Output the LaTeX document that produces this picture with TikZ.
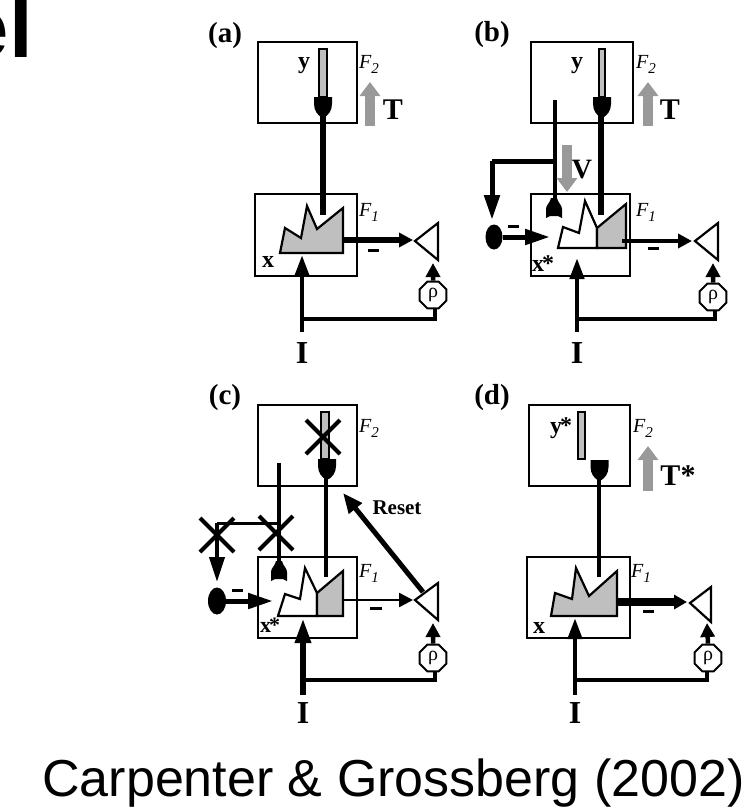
\documentclass[tikz,border=0pt]{standalone}
\usepackage{fontspec}
\setmainfont{Liberation Serif}
\newfontfamily\captionfont{Liberation Sans}
\usetikzlibrary{arrows.meta,shapes.geometric}

\newcommand\layersub[2]{#1\raisebox{-5pt}{\fontsize{15}{15}\selectfont #2}}

\tikzset{
  layerbox/.style={draw,line width=2pt,fill=none,inner sep=0pt},
  barbox/.style={draw,line width=1.6pt,fill=gray!50,inner sep=0pt},
  tag/.style={font=\bfseries\fontsize{29}{29}\selectfont,inner sep=0pt},
  lab/.style={font=\bfseries\fontsize{24}{24}\selectfont,inner sep=0pt},
  caplab/.style={font=\bfseries\fontsize{30}{30}\selectfont,inner sep=0pt},
  biglab/.style={font=\bfseries\fontsize{32}{32}\selectfont,inner sep=0pt},
  layername/.style={font=\itshape\fontsize{20}{20}\selectfont,inner sep=0pt},
  rhonode/.style={draw,fill=white,line width=2pt,regular polygon,regular polygon sides=8,minimum size=29pt,inner sep=0pt,font=\fontsize{20}{20}\selectfont},
  gainnode/.style={fill=black,ellipse,inner sep=0pt},
  pulse/.style={line width=#1,-{Triangle[length=14pt,width=14pt]}},
  input/.style={line width=#1,-{Triangle[length=21pt,width=14pt]}},
  feed/.style={line width=#1,-{Triangle[length=25pt,width=15pt]}},
  signal/.style={line width=10pt,draw=gray!80,-{Triangle[length=14pt,width=20pt]}},
  plain/.style={line width=#1},
  crossmark/.style={line width=4pt},
  wave/.style={draw,line width=2.2pt,line join=miter},
  minus/.style={line width=3pt},
  triangle/.style={draw,fill=white,line width=2.2pt,line join=miter},
  cupdown/.pic={\fill (-9,0) -- (9,0) -- (9,7) .. controls (9,14) and (5,18) .. (2,20) -- (-2,20) .. controls (-5,18) and (-9,14) .. (-9,7) -- cycle;},
  cupup/.pic={\fill (-3,0) -- (3,0) .. controls (4,5) and (8,7) .. (8,11) -- (8,20) -- (4,18) -- (-4,18) -- (-8,20) -- (-8,11) .. controls (-8,7) and (-4,5) .. cycle;}
}

\begin{document}
\begin{tikzpicture}[x=1pt,y=-1pt]
  \useasboundingbox (0,0) rectangle (755,807);

  \begin{scope}
    \clip (0,0) rectangle (755,807);
    \node[font=\captionfont\bfseries\fontsize{85}{85}\selectfont,inner sep=0pt,anchor=base east] (heading) at (33,57) {el};
  \end{scope}
  \node[font=\captionfont\fontsize{52}{52}\selectfont,inner sep=0pt,anchor=base] (caption) at (393.5,796) {Carpenter \& Grossberg (2002)};

  % (a)
  \node[tag] (taga) at (225,36) {(a)};
  \node[layerbox,minimum width=99pt,minimum height=81pt] (f2a) at (307.5,82.5) {};
  \node[layerbox,minimum width=102pt,minimum height=82pt] (f1a) at (306,235) {};
  \node[layername] (nf2a) at (369,64) {\layersub{F}{2}};
  \node[layername] (nf1a) at (369,212) {\layersub{F}{1}};
  \node[lab] (ya) at (304,66) {y};
  \node[lab] (xa) at (268,262) {x};
  \node[caplab] (ta) at (393,110) {T};
  \node[biglab] (ia) at (302,353) {I};
  \node[barbox,minimum width=8pt,minimum height=48pt] (bara) at (323,73) {};
  \pic at (323,97) {cupdown};
  \draw[wave,fill=gray!50] (280,253) -- (285,228) -- (301,238) -- (307,206) -- (317,229) -- (343,208) -- (343,253) -- cycle;
  \coordinate (cupa) at (323,115);
  \coordinate (peaka) at (323,215);
  \draw[plain=6.5pt] (cupa) -- (peaka);
  \coordinate (ga) at (370,126);
  \coordinate (gb) at (370,82);
  \draw[signal] (ga) -- (gb);
  \coordinate (outa) at (343,240);
  \coordinate (trita) at (413,240);
  \draw[pulse=6pt] (outa) -- (trita);
  \draw[triangle] (415,241) -- (438,223) -- (438,260) -- cycle;
  \coordinate (ma1) at (368,250);
  \coordinate (ma2) at (379,250);
  \draw[minus] (ma1) -- (ma2);
  \node[rhonode] (rhoa) at (433,295) {ρ};
  \coordinate (ina) at (302,332);
  \coordinate (tipa) at (302,255);
  \draw[input=4.5pt] (ina) -- (tipa);
  \coordinate (joina) at (302,319);
  \coordinate (corna) at (435,319);
  \draw[plain=3.5pt] (joina) -- (corna) -- (corna |- rhoa.south);
  \coordinate (triba) at (433,263);
  \draw[pulse=4.5pt] (rhoa.north) -- (triba);

  % (b)
  \node[tag] (tagb) at (492,35) {(b)};
  \node[layerbox,minimum width=102pt,minimum height=81pt] (f2b) at (582,82.5) {};
  \node[layerbox,minimum width=99pt,minimum height=82pt] (f1b) at (580.5,235) {};
  \node[layername] (nf2b) at (646,64) {\layersub{F}{2}};
  \node[layername] (nf1b) at (646,212) {\layersub{F}{1}};
  \node[lab] (yb) at (577,66) {y};
  \node[lab] (xb) at (543,264) {x\kern-2pt*};
  \node[caplab] (tb) at (670,110) {T};
  \node[biglab] (ib) at (577,353) {I};
  \node[barbox,minimum width=6pt,minimum height=48pt] (barb) at (602,73) {};
  \pic at (602,97) {cupdown};
  \pic at (554,198) {cupup};
  \draw[wave,fill=white] (558,248) -- (563,227) -- (579,233) -- (585,201) -- (597,228) -- (597,248) -- cycle;
  \draw[wave,fill=gray!50] (597,228) -- (626,204) -- (626,248) -- (597,248) -- cycle;
  \coordinate (cupb) at (601,115);
  \coordinate (peakb) at (601,215);
  \draw[plain=6pt] (cupb) -- (peakb);
  \coordinate (lineb) at (555,100);
  \coordinate (cupub) at (555,200);
  \draw[plain=4pt] (lineb) -- (cupub);
  \coordinate (brb) at (555,161);
  \coordinate (cnb) at (492,161);
  \coordinate (tiptb) at (492,220);
  \draw[plain=5pt] (brb) -- (cnb);
  \draw[feed=5pt] (cnb) -- (tiptb);
  \node[gainnode,minimum width=17pt,minimum height=25pt] (gainb) at (494,237) {};
  \coordinate (tgb) at (550,237);
  \draw[feed=5pt] (gainb) -- (tgb);
  \coordinate (mb3) at (508,226);
  \coordinate (mb4) at (519,226);
  \draw[minus] (mb3) -- (mb4);
  \coordinate (gc) at (648,126);
  \coordinate (gd) at (648,82);
  \draw[signal] (gc) -- (gd);
  \coordinate (ge) at (567,145);
  \coordinate (gf) at (567,192);
  \draw[signal] (ge) -- (gf);
  \node[caplab,font=\bfseries\fontsize{28}{28}\selectfont] (vb) at (582,170) {V};
  \coordinate (outb) at (622,241);
  \coordinate (tritb) at (692,241);
  \draw[pulse=4pt] (outb) -- (tritb);
  \draw[triangle] (695,241) -- (718,223) -- (718,260) -- cycle;
  \coordinate (mb1) at (648,248);
  \coordinate (mb2) at (659,248);
  \draw[minus] (mb1) -- (mb2);
  \node[rhonode] (rhob) at (713,297) {ρ};
  \coordinate (inb) at (577,332);
  \coordinate (tipb) at (577,258);
  \draw[input=4.5pt] (inb) -- (tipb);
  \coordinate (joinb) at (577,319);
  \coordinate (cornb) at (715,319);
  \draw[plain=3.5pt] (joinb) -- (cornb) -- (cornb |- rhob.south);
  \coordinate (tribb) at (713,263);
  \draw[pulse=4.5pt] (rhob.north) -- (tribb);

  % (c)
  \node[tag] (tagc) at (225,398) {(c)};
  \node[layerbox,minimum width=99pt,minimum height=81pt] (f2c) at (307.5,445.5) {};
  \node[layerbox,minimum width=99pt,minimum height=81pt] (f1c) at (307.5,597.5) {};
  \node[layername] (nf2c) at (369,428) {\layersub{F}{2}};
  \node[layername] (nf1c) at (369,573) {\layersub{F}{1}};
  \node[lab,font=\bfseries\fontsize{22}{22}\selectfont] (xc) at (270,625) {x\kern-2pt*};
  \node[font=\bfseries\fontsize{21}{21}\selectfont,inner sep=0pt] (resetc) at (397,508) {Reset};
  \node[biglab] (ic) at (303,713) {I};
  \node[barbox,minimum width=8pt,minimum height=47pt] (barc) at (325,435.5) {};
  \pic at (327,459) {cupdown};
  \pic at (279,561) {cupup};
  \draw[wave,fill=white] (278,616) -- (285,594) -- (300,599) -- (305,568) -- (317,593) -- (317,616) -- cycle;
  \draw[wave,fill=gray!50] (317,593) -- (343,571) -- (343,616) -- (317,616) -- cycle;
  \coordinate (cupc) at (326,477);
  \coordinate (peakc) at (326,577);
  \draw[plain=4pt] (cupc) -- (peakc);
  \coordinate (linec) at (279,463);
  \coordinate (cupuc) at (279,563);
  \draw[plain=4pt] (linec) -- (cupuc);
  \coordinate (brc) at (279,523);
  \coordinate (cnc) at (217,523);
  \coordinate (tiptc) at (217,582);
  \draw[plain=3pt] (brc) -- (cnc);
  \draw[feed=4pt] (cnc) -- (tiptc);
  \foreach \cx/\cy [count=\k] in {323/437,217/535,276/533} {
    \coordinate (cross\k a) at (\cx-17,\cy-17);
    \coordinate (cross\k b) at (\cx+17,\cy+17);
    \coordinate (cross\k c) at (\cx+17,\cy-17);
    \coordinate (cross\k d) at (\cx-17,\cy+17);
    \draw[crossmark] (cross\k a) -- (cross\k b);
    \draw[crossmark] (cross\k c) -- (cross\k d);
  }
  \node[gainnode,minimum width=18pt,minimum height=27pt] (gainc) at (217,601) {};
  \coordinate (tgc) at (273,601);
  \draw[feed=5pt] (gainc) -- (tgc);
  \coordinate (mc3) at (232,590);
  \coordinate (mc4) at (243,590);
  \draw[minus] (mc3) -- (mc4);
  \coordinate (outc) at (343,600);
  \coordinate (tritc) at (413,600);
  \draw[pulse=2.5pt] (outc) -- (tritc);
  \draw[triangle] (415,600) -- (438,583) -- (438,620) -- cycle;
  \coordinate (mc1) at (370,608);
  \coordinate (mc2) at (382,608);
  \draw[minus] (mc1) -- (mc2);
  \coordinate (resetstart) at (423,592);
  \coordinate (resettip) at (343,493);
  \draw[line width=5pt,-{Triangle[length=20pt,width=16pt]}] (resetstart) -- (resettip);
  \node[rhonode] (rhoc) at (433,658) {ρ};
  \coordinate (inc) at (303,695);
  \coordinate (tipc) at (303,618);
  \draw[line width=6pt,-{Triangle[length=25pt,width=15pt]}] (inc) -- (tipc);
  \coordinate (joinc) at (303,680);
  \coordinate (cornc) at (435,680);
  \draw[plain=3.5pt] (joinc) -- (cornc) -- (cornc |- rhoc.south);
  \coordinate (tribc) at (433,623);
  \draw[pulse=4.5pt] (rhoc.north) -- (tribc);

  % (d)
  \node[tag] (tagd) at (492,398) {(d)};
  \node[layerbox,minimum width=101pt,minimum height=81pt] (f2d) at (579.5,445.5) {};
  \node[layerbox,minimum width=103pt,minimum height=81pt] (f1d) at (578.5,597.5) {};
  \node[layername] (nf2d) at (643,428) {\layersub{F}{2}};
  \node[layername] (nf1d) at (641,573) {\layersub{F}{1}};
  \node[lab] (yd) at (561,428) {y\kern-2pt*};
  \node[lab] (xd) at (539,628) {x};
  \node[caplab] (td) at (678,476) {T*};
  \node[biglab] (id) at (575,713) {I};
  \node[barbox,minimum width=7pt,minimum height=47pt] (bard) at (581.5,435.5) {};
  \pic at (599.5,460) {cupdown};
  \draw[wave,fill=gray!50] (551,616) -- (555,593) -- (572,599) -- (576,568) -- (589,596) -- (617,571) -- (617,616) -- cycle;
  \coordinate (cupd) at (599,478);
  \coordinate (peakd) at (599,577);
  \draw[plain=4pt] (cupd) -- (peakd);
  \coordinate (gg) at (648,491);
  \coordinate (gh) at (648,446);
  \draw[signal] (gg) -- (gh);
  \coordinate (outd) at (617,602);
  \coordinate (tritd) at (687,602);
  \draw[line width=8pt,-{Triangle[length=13pt,width=14pt]}] (outd) -- (tritd);
  \draw[triangle] (690,603) -- (711,587) -- (711,622) -- cycle;
  \coordinate (md1) at (643,611);
  \coordinate (md2) at (654,611);
  \draw[minus] (md1) -- (md2);
  \node[rhonode] (rhod) at (708,658) {ρ};
  \coordinate (ind) at (575,695);
  \coordinate (tipd) at (575,618);
  \draw[input=4.5pt] (ind) -- (tipd);
  \coordinate (joind) at (575,680);
  \coordinate (cornd) at (707,680);
  \draw[plain=3.5pt] (joind) -- (cornd) -- (cornd |- rhod.south);
  \coordinate (tribd) at (707,623);
  \draw[pulse=4.5pt] (rhod.north) -- (tribd);
\end{tikzpicture}
\end{document}
